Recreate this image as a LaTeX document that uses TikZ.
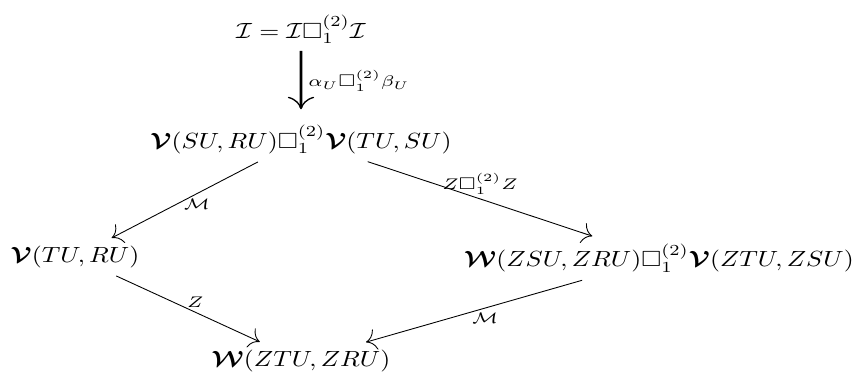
\documentclass[tikz,border=0pt]{standalone}
\usepackage{amsmath,amssymb,bm}
\usetikzlibrary{arrows.meta,positioning}
\tikzset{
  % oggetto del diagramma
  obj/.style={xscale=1.17, transform shape, inner sep=3pt},
  % etichetta di una freccia
  lbl/.style={xscale=1.25, transform shape, font=\scriptsize, inner sep=2pt},
  % morfismi
  mor/.style={-{To[length=1.6mm]}, line width=0.4pt, shorten <=1pt, shorten >=1pt},
  bigmor/.style={-{To[length=2mm, line width=0.6pt]}, line width=1.3pt, shorten >=4pt},
}

\begin{document}
\begin{tikzpicture}
  \useasboundingbox (0,0) rectangle (13.872,6.032);
  % oggetti
  \node[obj] (top) at (4.816,5.56) {$\mathcal{I}=\mathcal{I}\Box^{(2)}_1\mathcal{I}$};
  \node[obj] (mid) at (4.816,3.80) {$\bm{\mathcal{V}}(SU,RU)\Box^{(2)}_1\bm{\mathcal{V}}(TU,SU)$};
  \node[obj] (lft) at (1.20,1.92) {$\bm{\mathcal{V}}(TU,RU)$};
  \node[obj] (rgt) at (10.544,1.90) {$\bm{\mathcal{W}}(ZSU,ZRU)\Box^{(2)}_1\bm{\mathcal{V}}(ZTU,ZSU)$};
  \node[obj] (bot) at (4.816,0.26) {$\bm{\mathcal{W}}(ZTU,ZRU)$};
  % frecce
  \draw[bigmor] (top) -- node[lbl, right, pos=0.45] {$\alpha_U\Box^{(2)}_1\beta_U$} (mid);
  \draw[mor] (mid) -- node[lbl, below, pos=0.42] {$\mathcal{M}$} (lft);
  \draw[mor] (mid) -- node[lbl, above] {$Z\Box^{(2)}_1Z$} (rgt);
  \draw[mor] (lft) -- node[lbl, above, pos=0.55] {$Z$} (bot);
  \draw[mor] (rgt) -- node[lbl, below, pos=0.45] {$\mathcal{M}$} (bot);
\end{tikzpicture}
\end{document}
